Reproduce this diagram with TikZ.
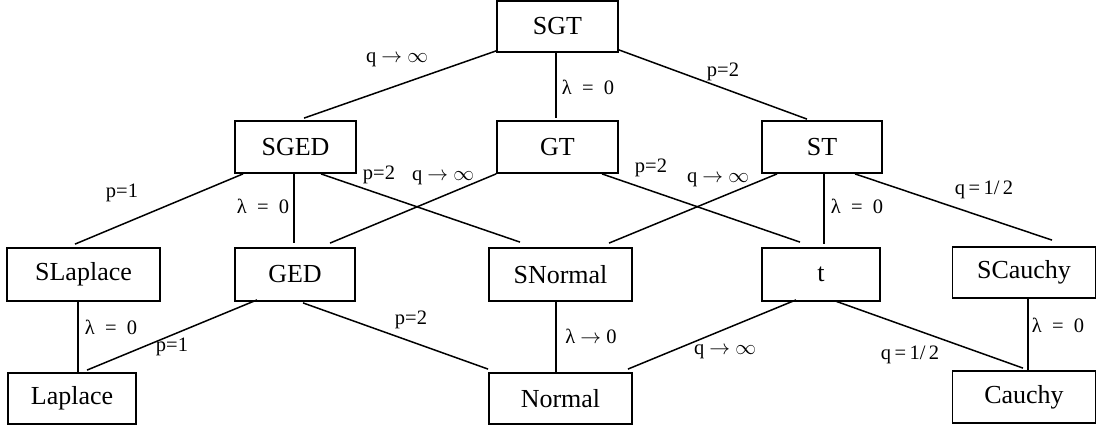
\documentclass[tikz,border=0pt]{standalone}
\usepackage{fontspec}
\setmainfont{Liberation Serif}
\newcommand{\qinf}{q\hspace{0.25em}$\rightarrow$\hspace{0.25em}$\infty$}
\newcommand{\lamz}{λ\hspace{0.5em}=\hspace{0.5em}0}
\newcommand{\lamto}{λ\hspace{0.25em}$\rightarrow$\hspace{0.25em}0}
\begin{document}
\begin{tikzpicture}[x=1pt,y=-1pt,
  box/.style={draw,line width=1.8pt,inner sep=0pt,font=\fontsize{26}{28}\selectfont},
  lbl/.style={inner sep=0pt,font=\fontsize{20.5}{22}\selectfont},
  conn/.style={line width=1.5pt}]
\useasboundingbox (0,0) rectangle (1097,429);
% nodes
\node[box,minimum width=121pt,minimum height=51pt] (SGT) at (557.5,26.5) {SGT};
\node[box,minimum width=121pt,minimum height=52pt] (SGED) at (295.5,147) {SGED};
\node[box,minimum width=121pt,minimum height=52pt] (GT) at (557.5,147) {GT};
\node[box,minimum width=120pt,minimum height=52pt] (ST) at (822,147) {ST};
\node[box,minimum width=153pt,minimum height=53pt] (SLaplace) at (83.5,274.5) {SLaplace};
\node[box,minimum width=120pt,minimum height=53pt] (GED) at (295,274.5) {GED};
\node[box,minimum width=143pt,minimum height=53pt] (SNormal) at (560.5,274.5) {SNormal};
\node[box,minimum width=118pt,minimum height=53pt] (t) at (821,274.5) {t};
\node[box,minimum width=143pt,minimum height=51pt] (SCauchy) at (1024,272.5) {SCauchy};
\node[box,minimum width=128pt,minimum height=51pt] (Laplace) at (72,398.5) {Laplace};
\node[box,minimum width=143pt,minimum height=51pt] (Normal) at (560.5,398.5) {Normal};
\node[box,minimum width=143pt,minimum height=52pt] (Cauchy) at (1024,397) {Cauchy};
% connectors
\draw[conn] ([yshift=2pt]SGT.south west) -- ([xshift=8.5pt,yshift=2pt]SGED.north);
\draw[conn] ([xshift=-1.5pt]SGT.south) -- ([xshift=-1.5pt,yshift=2pt]GT.north);
\draw[conn] ([yshift=3pt]SGT.south east) -- ([xshift=-15pt,yshift=1pt]ST.north);
\draw[conn] ([xshift=-52.5pt]SGED.south) -- ([xshift=-8.5pt,yshift=3pt]SLaplace.north);
\draw[conn] ([xshift=-1.5pt]SGED.south) -- ([xshift=-1pt,yshift=4pt]GED.north);
\draw[conn] ([xshift=25.5pt]SGED.south) -- ([xshift=-40.5pt,yshift=5pt]SNormal.north);
\draw[conn] (GT.south west) -- ([xshift=35pt,yshift=4pt]GED.north);
\draw[conn] ([xshift=44.5pt]GT.south) -- ([xshift=-21pt,yshift=5pt]t.north);
\draw[conn] ([xshift=-45pt]ST.south) -- ([xshift=48.5pt,yshift=4pt]SNormal.north);
\draw[conn] ([xshift=2pt]ST.south) -- ([xshift=3pt,yshift=3pt]t.north);
\draw[conn] ([xshift=33pt]ST.south) -- ([xshift=28pt,yshift=6pt]SCauchy.north);
\draw[conn] ([xshift=-5.5pt]SLaplace.south) -- ([xshift=6pt]Laplace.north);
\draw[conn] ([xshift=-38pt,yshift=2pt]GED.south) -- ([xshift=15pt,yshift=2pt]Laplace.north);
\draw[conn] ([xshift=8pt,yshift=-1pt]GED.south) -- ([yshift=3pt]Normal.north west);
\draw[conn] ([xshift=-4.5pt]SNormal.south) -- ([xshift=-4.5pt,yshift=-2pt]Normal.north);
\draw[conn] ([xshift=-25pt,yshift=2pt]t.south) -- ([xshift=-5pt,yshift=3pt]Normal.north east);
\draw[conn] ([xshift=14pt,yshift=1pt]t.south) -- ([xshift=-1pt,yshift=2pt]Cauchy.north);
\draw[conn] ([xshift=4pt]SCauchy.south) -- ([xshift=4pt]Cauchy.north);
% labels
\node[lbl] (l1) at (397,60) {\qinf};
\node[lbl] (l2) at (588,87) {\lamz};
\node[lbl] (l3) at (723,72) {p=2};
\node[lbl] (l4) at (122,193) {p=1};
\node[lbl] (l5) at (263,206) {\lamz};
\node[lbl] (l6) at (379,175) {p=2};
\node[lbl] (l7) at (443,178) {\qinf};
\node[lbl] (l8) at (651,168) {p=2};
\node[lbl] (l9) at (718,180) {\qinf};
\node[lbl] (l10) at (857,206) {\lamz};
\node[lbl] (l11) at (984,190) {q\,=\,1/\,2};
\node[lbl] (l12) at (111,327) {\lamz};
\node[lbl] (l13) at (172,347) {p=1};
\node[lbl] (l14) at (411,320) {p=2};
\node[lbl] (l15) at (591,336) {\lamto};
\node[lbl] (l16) at (725,352) {\qinf};
\node[lbl] (l17) at (910,355) {q\,=\,1/\,2};
\node[lbl] (l18) at (1058,325) {\lamz};
\end{tikzpicture}
\end{document}
